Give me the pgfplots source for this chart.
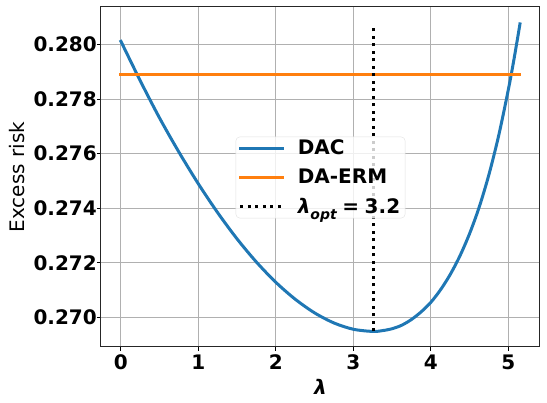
\documentclass[border=0pt]{standalone}
\usepackage{fontspec}
\setmainfont{DejaVu Sans}
\usepackage{pgfplots}
\pgfplotsset{compat=1.18}
\definecolor{tabblue}{HTML}{1F77B4}
\definecolor{taborange}{HTML}{FF7F0E}
\definecolor{gridgray}{HTML}{B0B0B0}

\begin{document}
\begin{tikzpicture}
\begin{axis}[
  scale only axis, width=439pt, height=340pt,
  xmin=-0.2575, xmax=5.4085, ymin=0.26891, ymax=0.28138,
  xtick={0,1,2,3,4,5}, xticklabels={0,1,2,3,4,5},
  ytick={0.270,0.272,0.274,0.276,0.278,0.280},
  yticklabels={0.270,0.272,0.274,0.276,0.278,0.280},
  scaled y ticks=false,
  tick align=outside, tick pos=left,
  major tick length=4pt,
  every tick/.style={black, line width=1pt},
  grid=major, grid style={gridgray, line width=0.9pt},
  axis line style={line width=1pt, black!85},
  ticklabel style={font=\bfseries\fontsize{20}{20}\selectfont},
  yticklabel style={anchor=east, inner sep=0pt, at={(axis description cs:-0.023,0)}},
  xlabel={\bfseries\itshape λ}, ylabel={Excess risk},
  label style={font=\fontsize{20}{20}\selectfont},
  xlabel style={at={(axis description cs:0.5,-0.1168)}, anchor=center},
  ylabel style={at={(axis description cs:-0.1913,0.5)}, anchor=center},
  legend cell align=left,
  legend image code/.code={\draw[#1] (0pt,0pt) -- (42pt,0pt);},
  legend style={at={(0.5,0.4985)}, anchor=center, draw=black!12, rounded corners=4pt,
    fill=white, fill opacity=0.8, text opacity=1, inner xsep=3pt, inner ysep=1pt,
    row sep=9pt, font=\bfseries\fontsize{20}{20}\selectfont,
    /tikz/every odd column/.append style={column sep=12pt}},
]
\addplot[tabblue, line width=3pt, line cap=rect, smooth] coordinates {
(0.00,0.28012)(0.25,0.27867)(0.50,0.27730)(0.75,0.27605)(1.00,0.27489)
(1.25,0.27383)(1.50,0.27287)(1.75,0.27202)(2.00,0.27128)(2.25,0.27066)
(2.50,0.27016)(2.75,0.26979)(3.00,0.26956)(3.25,0.26948)(3.375,0.26951)
(3.50,0.26958)(3.625,0.26971)(3.75,0.26992)(3.875,0.27020)(4.00,0.27055)
(4.125,0.27101)(4.25,0.27157)(4.375,0.27225)(4.50,0.27307)(4.625,0.27405)
(4.75,0.27524)(4.875,0.27666)(5.00,0.27835)(5.075,0.27950)(5.15,0.28076)};
\addlegendentry{DAC}
\addplot[taborange, line width=3pt, line cap=rect] coordinates {(0,0.27890)(5.15,0.27890)};
\addlegendentry{DA-ERM}
\addplot[black, line width=3pt, dash pattern=on 3pt off 4.5pt] coordinates {(3.256,0.26948)(3.256,0.28061)};
\addlegendentry{{\itshape λ\raisebox{-0.3em}{\fontsize{14}{14}\selectfont opt}}\hspace{0.28em}=\hspace{0.28em}3.2\rule[-23pt]{0pt}{1pt}}
\end{axis}
\pgfresetboundingbox
\path ([xshift=-101pt,yshift=-56pt]current axis.south west) rectangle ([xshift=7pt,yshift=7pt]current axis.north east);
\end{tikzpicture}
\end{document}
